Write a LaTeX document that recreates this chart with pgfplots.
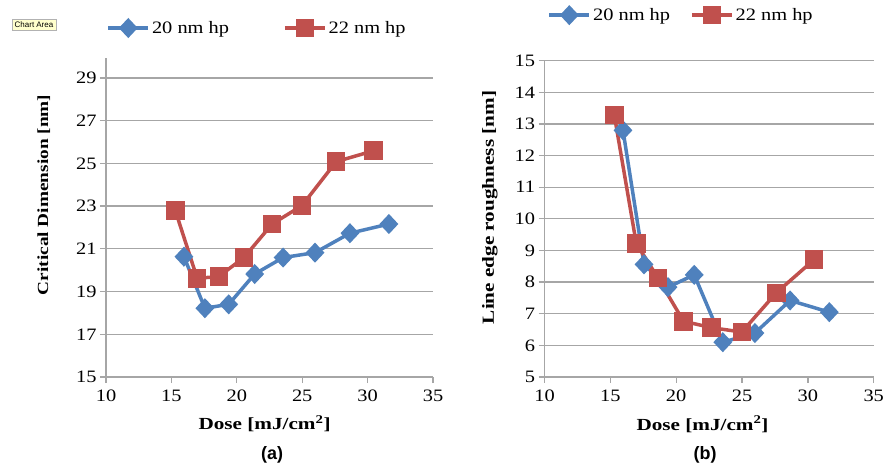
\documentclass[border=0pt]{standalone}
\usepackage{fontspec}
\setmainfont[FakeStretch=1.17]{Liberation Serif}
\newfontfamily\labelfont[FakeStretch=1.25]{Liberation Serif}
\newfontfamily\arialfont{Liberation Sans}
\usepackage{pgfplots}
\pgfplotsset{compat=1.18}

\definecolor{serblue}{RGB}{79,129,189}
\definecolor{serred}{RGB}{192,80,77}
\definecolor{axgray}{RGB}{166,166,166}
\definecolor{tipyellow}{RGB}{255,255,205}

\pgfplotsset{
  dosechart/.style={
    scale only axis,
    axis lines*=left,
    axis line style={-, color=axgray, line width=1.3bp},
    tick align=outside,
    major tick length=6bp,
    tick style={color=axgray, line width=1.3bp},
    ymajorgrids,
    grid style={color=axgray, line width=1.3bp},
    xmin=10, xmax=35, xtick={10,15,...,35},
    tick label style={font=\fontsize{17.5}{20}\selectfont},
    xticklabel style={yshift=-3bp},
    /pgf/number format/assume math mode=true,
    xlabel={Dose [mJ/cm\textsuperscript{2}]},
    xlabel style={font=\labelfont\bfseries\fontsize{17}{20}\selectfont},
    legend style={draw=none, fill=none, legend columns=2, anchor=center,
      font=\fontsize{17.5}{20}\selectfont},
    legend image code/.code={\draw[mark repeat=2, mark phase=2]
      plot coordinates {(0bp,0bp) (20bp,0bp) (40bp,0bp)};},
    clip=false,
  },
  s20/.style={color=serblue, line width=3.5bp, mark=diamond*, mark size=7.5bp,
    mark options={solid, xscale=1.25}},
  s22/.style={color=serred, line width=3.5bp, mark=square*, mark size=7.5bp,
    mark options={solid}},
}

\begin{document}
\begin{tikzpicture}
\useasboundingbox (0,0) rectangle (884bp,470bp);

\node[draw=gray!60, fill=tipyellow, inner sep=2.5bp,
  font=\arialfont\fontsize{8}{9}\selectfont] at (34bp,445.5bp) {Chart Area};

% (a) critical dimension
\begin{axis}[dosechart,
    at={(106bp,93bp)}, anchor=south west,
    width=327bp, height=319bp,
    ymin=15, ymax=29.93, ytick={15,17,...,29},
    ylabel={Critical Dimension [nm]},
    ylabel style={at={(axis description cs:-0.19,0.571)}, anchor=center,
      font=\labelfont\bfseries\fontsize{15.5}{18}\selectfont},
    xlabel style={at={(axis description cs:0.485,-0.147)}, anchor=center},
    legend style={at={(axis description cs:0.462,1.094)},
      /tikz/every even column/.append style={column sep=52bp}},
]
\addplot[s20] coordinates {
  (15.96,20.63) (17.56,18.22) (19.38,18.40) (21.37,19.82)
  (23.54,20.59) (25.98,20.82) (28.65,21.73) (31.63,22.16)
};
\addlegendentry{20 nm hp}
\addplot[s22] coordinates {
  (15.30,22.79) (16.97,19.62) (18.62,19.70) (20.56,20.60)
  (22.70,22.16) (24.98,23.02) (27.60,25.08) (30.47,25.59)
};
\addlegendentry{22 nm hp}
\node[font=\arialfont\bfseries\fontsize{18}{20}\selectfont]
  at (axis description cs:0.508,-0.245) {(a)};
\end{axis}

% (b) line edge roughness
\begin{axis}[dosechart,
    at={(544.5bp,93bp)}, anchor=south west,
    width=329.2bp, height=316.3bp,
    ymin=5, ymax=15, ytick={5,6,...,15},
    ylabel={Line edge roughness [nm]},
    ylabel style={at={(axis description cs:-0.166,0.536)}, anchor=center,
      font=\labelfont\bfseries\fontsize{17}{20}\selectfont},
    xlabel style={at={(axis description cs:0.48,-0.149)}, anchor=center},
    legend style={at={(axis description cs:0.415,1.144)},
      /tikz/every even column/.append style={column sep=18bp}},
]
\addplot[s20] coordinates {
  (15.96,12.80) (17.56,8.56) (19.38,7.84) (21.37,8.23)
  (23.54,6.10) (25.98,6.39) (28.65,7.42) (31.63,7.05)
};
\addlegendentry{20 nm hp}
\addplot[s22] coordinates {
  (15.30,13.28) (16.97,9.22) (18.62,8.13) (20.56,6.76)
  (22.70,6.56) (24.98,6.42) (27.60,7.66) (30.47,8.71)
};
\addlegendentry{22 nm hp}
\node[font=\arialfont\bfseries\fontsize{18}{20}\selectfont]
  at (axis description cs:0.488,-0.247) {(b)};
\end{axis}
\end{tikzpicture}
\end{document}
